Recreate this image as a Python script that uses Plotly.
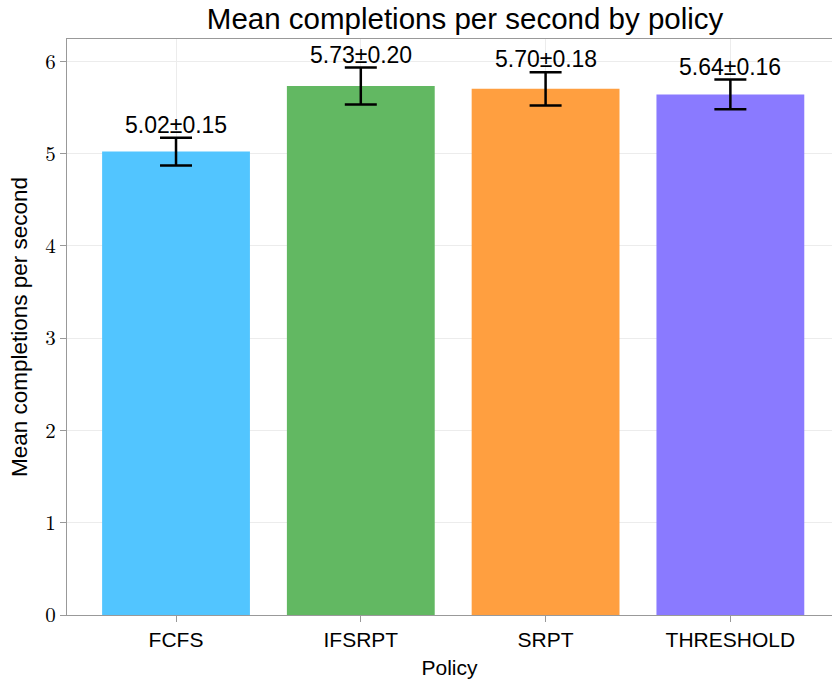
import plotly.graph_objects as go

policies = ["FCFS", "IFSRPT", "SRPT", "THRESHOLD"]
means = [5.02, 5.73, 5.70, 5.64]
errors = [0.15, 0.20, 0.18, 0.16]
colors = ["#52c5ff", "#62b862", "#ff9f40", "#8a7aff"]

SANS = "Liberation Sans, Arial"
fig = go.Figure()
fig.add_trace(go.Bar(
    x=policies, y=means, width=0.8,
    marker=dict(color=colors, line=dict(width=0)),
    error_y=dict(type="data", array=errors, visible=True, color="black",
                 thickness=2.5, width=16),
    showlegend=False,
))
for p, m, e in zip(policies, means, errors):
    fig.add_annotation(x=p, y=m + e, text=f"{m:.2f}±{e:.2f}", showarrow=False,
                       yanchor="bottom", yshift=-2,
                       font=dict(family=SANS, size=23, color="black"))

fig.update_layout(
    width=832, height=680,
    margin=dict(l=67, r=0, t=39, b=65),
    paper_bgcolor="white", plot_bgcolor="white",
    title=dict(text="Mean completions per second by policy", x=0.559, xanchor="center",
               y=0.972, yanchor="middle",
               font=dict(family=SANS, size=29.5, color="black")),
)
fig.update_xaxes(
    range=[-0.59, 3.55], showline=True, linecolor="#999999", linewidth=1, mirror=True,
    showgrid=True, gridcolor="#ececec", gridwidth=1,
    ticks="outside", ticklen=6, tickcolor="#999999",
    tickfont=dict(family=SANS, size=21, color="black"),
    title=dict(text="Policy", font=dict(family=SANS, size=21, color="black"), standoff=10),
    layer="above traces",
)
fig.update_yaxes(
    range=[0, 6.24], dtick=1, showline=True, linecolor="#999999", linewidth=1, mirror=True,
    showgrid=True, gridcolor="#ececec", gridwidth=1, zeroline=False,
    ticks="outside", ticklen=6, tickcolor="#999999",
    tickfont=dict(family="Latin Modern Roman, CMU Serif, Liberation Serif, serif", size=21, color="black"),
    title=dict(text="Mean completions per second", font=dict(family=SANS, size=22.5, color="black"), standoff=11),
    layer="above traces",
)
fig.write_html("out.html")
